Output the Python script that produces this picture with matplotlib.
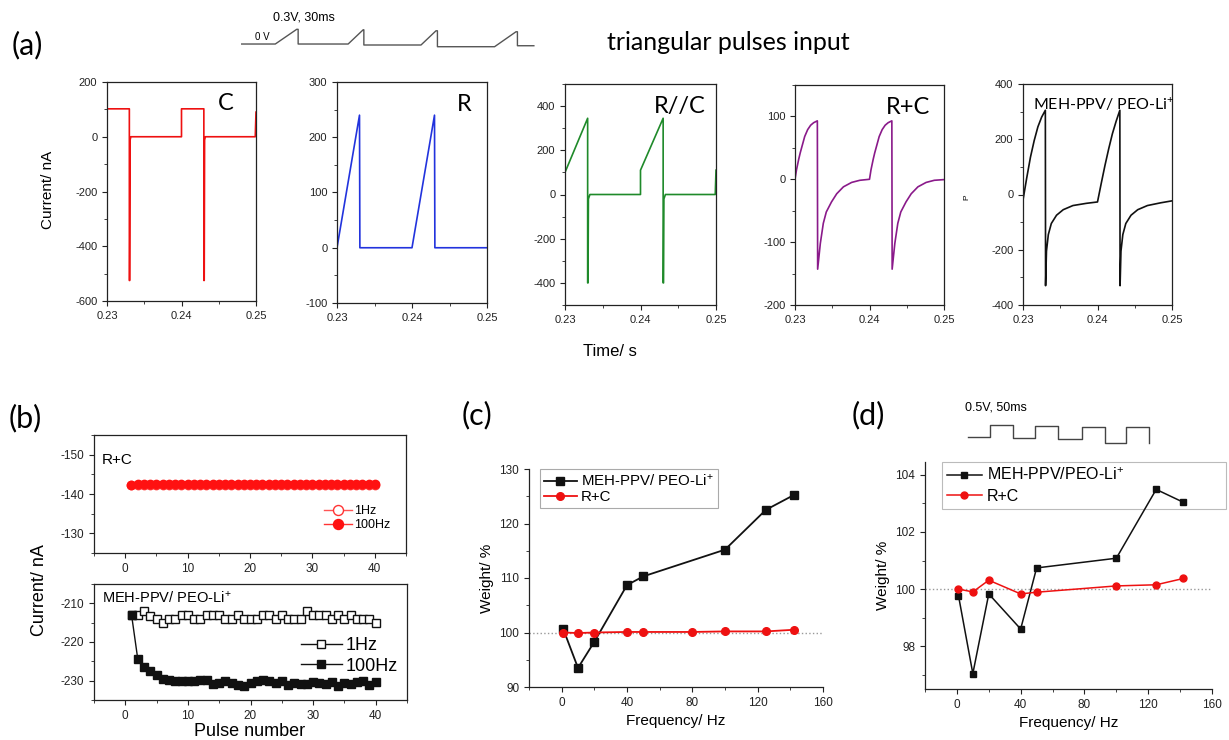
import matplotlib
matplotlib.use("Agg")
import matplotlib.pyplot as plt
from matplotlib.ticker import MultipleLocator

plt.rcParams["font.family"] = ["Liberation Sans", "DejaVu Sans"]
plt.rcParams["mathtext.fontset"] = "custom"
plt.rcParams["mathtext.rm"] = "Liberation Sans"
plt.rcParams["mathtext.it"] = "Liberation Sans"
plt.rcParams["axes.unicode_minus"] = False

# ---------------- data: panel (a) current responses (time in s, current in nA)
c_t = [0.2300, 0.2300, 0.2330, 0.2330, 0.23305, 0.2331, 0.2332, 0.2400, 0.2400,
       0.2430, 0.2430, 0.24305, 0.2431, 0.2432, 0.2499, 0.2500]
c_i = [20, 102, 102, -525, -525, -12, 0, 0, 102, 102, -525, -525, -12, 0, 0, 90]

r_t = [0.2300, 0.2330, 0.23305, 0.2400, 0.2430, 0.24305, 0.2500]
r_i = [0, 240, 0, 0, 240, 0, 0]

rpc_t = [0.2300, 0.2300, 0.2330, 0.2330, 0.23305, 0.2331, 0.2333, 0.2400, 0.2400,
         0.2430, 0.2430, 0.24305, 0.2431, 0.2433, 0.2499, 0.2500]
rpc_i = [0, 100, 345, -400, -400, -20, 0, 0, 110, 345, -400, -400, -20, 0, 0, 110]

rsc_t = [0.2300, 0.2302, 0.2305, 0.2307, 0.2310, 0.2313, 0.2317, 0.2321, 0.2325, 0.2330,
         0.23304, 0.2334, 0.2338, 0.2342, 0.2349, 0.2356, 0.2365, 0.2376, 0.2387, 0.2400,
         0.2402, 0.2405, 0.2407, 0.2410, 0.2413, 0.2417, 0.2421, 0.2425, 0.2430,
         0.24304, 0.2434, 0.2438, 0.2442, 0.2449, 0.2456, 0.2465, 0.2476, 0.2487, 0.2500]
rsc_i = [0, 15, 32, 42, 55, 68, 79, 86, 90, 93,
         -143, -102, -70, -52, -36, -23, -12, -5, -1.6, 0,
         15, 32, 42, 55, 68, 79, 86, 90, 93,
         -143, -102, -70, -52, -36, -23, -12, -5, -1.6, -0.5]

meh_t = [0.2300, 0.2305, 0.2310, 0.2315, 0.2320, 0.2325, 0.2330,
         0.23303, 0.23315, 0.2334, 0.2338, 0.2345, 0.2354, 0.2367, 0.2385, 0.2400,
         0.2405, 0.2410, 0.2415, 0.2420, 0.2425, 0.2430,
         0.24303, 0.24315, 0.2434, 0.2438, 0.2445, 0.2454, 0.2467, 0.2485, 0.2500]
meh_i = [-20, 60, 135, 195, 245, 280, 305,
         -330, -205, -145, -105, -75, -55, -40, -32, -27,
         40, 105, 165, 220, 265, 305,
         -330, -205, -145, -105, -75, -55, -40, -30, -23]

# input pulse sketches (time in ms, voltage in V)
tri_t = [0, 47, 77, 79, 79, 149, 170, 171, 171, 251, 272, 274, 274, 354, 384, 386, 386, 409]
tri_v = [0, 0, 0.30, 0.30, 0, 0, 0.29, 0.29, -0.02, -0.02, 0.27, 0.27,
         -0.055, -0.055, 0.25, 0.25, -0.035, -0.035]
sq_t = [0, 47, 47, 97, 97, 145, 145, 195, 195, 246, 246, 296, 296, 343, 343, 393, 393]
sq_v = [0, 0, 0.5, 0.5, -0.07, -0.07, 0.47, 0.47, -0.10, -0.10, 0.43, 0.43,
        -0.26, -0.26, 0.40, 0.40, -0.28]

# ---------------- data: panel (b) peak current vs pulse number
pulse_n = list(range(1, 41))
rc_1hz = [-142.3, -142.3, -142.3, -142.3, -142.3, -142.3, -142.3, -142.3, -142.3, -142.3,
          -142.3, -142.3, -142.3, -142.3, -142.3, -142.3, -142.3, -142.3, -142.3, -142.3,
          -142.3, -142.3, -142.3, -142.3, -142.3, -142.3, -142.3, -142.3, -142.3, -142.3,
          -142.3, -142.3, -142.3, -142.3, -142.3, -142.3, -142.3, -142.3, -142.3, -142.3]
rc_100hz = [-142.4, -142.5, -142.5, -142.5, -142.5, -142.5, -142.5, -142.5, -142.5, -142.5,
            -142.5, -142.5, -142.5, -142.5, -142.5, -142.5, -142.5, -142.5, -142.5, -142.5,
            -142.5, -142.5, -142.5, -142.5, -142.5, -142.5, -142.5, -142.5, -142.5, -142.5,
            -142.5, -142.5, -142.5, -142.5, -142.5, -142.5, -142.5, -142.5, -142.5, -142.5]
meh_1hz = [-213, -213, -212, -213.2, -214, -215, -214, -214, -213, -213,
           -214, -214, -213, -213, -213, -214, -214, -213, -214, -214,
           -214, -213, -213, -214, -213, -214, -214, -214, -212, -213,
           -213, -213, -214, -213, -214, -213, -214, -214, -214, -215]
meh_100hz = [-213, -224.5, -226.5, -227.5, -228.5, -229.5, -229.8, -230, -230, -230,
             -230, -229.8, -229.8, -230.8, -230.5, -230, -230.5, -231, -231.5, -230.5,
             -230, -229.8, -230, -230.5, -230.2, -231, -230.5, -230.8, -230.8, -230.3,
             -230.5, -230.8, -230.3, -231.5, -230.5, -230.8, -230.3, -230, -231, -230.3]

# ---------------- data: panels (c) and (d) weight vs frequency
c_freq_meh = [1, 10, 20, 40, 50, 100, 125, 142]
c_w_meh = [100.6, 93.5, 98.3, 108.7, 110.3, 115.2, 122.5, 125.2]
c_freq_rc = [1, 10, 20, 40, 50, 80, 100, 125, 142]
c_w_rc = [100.0, 99.9, 100.0, 100.1, 100.1, 100.1, 100.2, 100.2, 100.5]

d_freq = [1, 10, 20, 40, 50, 100, 125, 142]
d_w_meh = [99.77, 97.04, 99.83, 98.6, 100.74, 101.08, 103.49, 103.04]
d_w_rc = [100.0, 99.9, 100.31, 99.83, 99.89, 100.11, 100.15, 100.37]

W, H = 1229, 740
fig = plt.figure(figsize=(W / 100, H / 100), dpi=100)


def add_ax(x0, y0, x1, y1):
    # pixel box (top-left origin) -> figure fraction
    return fig.add_axes([x0 / W, 1 - y1 / H, (x1 - x0) / W, (y1 - y0) / H])


def ftext(x, y, s, **kw):
    fig.text(x / W, 1 - y / H, s, **kw)


def style(ax, fs=8, box=True):
    ax.tick_params(which="both", direction="out", labelsize=fs, colors="#222",
                   top=False, right=False)
    ax.tick_params(which="major", length=3.5, width=0.8)
    ax.tick_params(which="minor", length=2, width=0.6)
    for s in ax.spines.values():
        s.set_linewidth(0.9)
        s.set_color("#222")
    if not box:
        ax.spines["top"].set_visible(False)
        ax.spines["right"].set_visible(False)


# ---------------- panel (a)
a_specs = [
    ((107, 82, 256, 301), c_t, c_i, "#ee1111", (-600, 200), 200, 100, "C", 0.80),
    ((337, 82, 487, 303), r_t, r_i, "#2233dd", (-100, 300), 100, 50, "R", 0.85),
    ((565, 84, 716, 305), rpc_t, rpc_i, "#1f8a2a", (-500, 500), 200, 100, "R//C", 0.76),
    ((795, 85, 944, 305), rsc_t, rsc_i, "#8a1a8a", (-200, 150), 100, 50, "R+C", 0.76),
    ((1023, 84, 1172, 305), meh_t, meh_i, "#111111", (-400, 400), 200, 100,
     "MEH-PPV/ PEO-Li$^{+}$", 0.54),
]
for box, t, i, col, ylim, maj, mnr, lab, lx in a_specs:
    ax = add_ax(*box)
    ax.plot(t, i, color=col, lw=1.2)
    ax.set_xlim(0.23, 0.25)
    ax.set_ylim(*ylim)
    ax.set_xticks([0.23, 0.24, 0.25])
    ax.set_xticklabels(["0.23", "0.24", "0.25"])
    ax.xaxis.set_minor_locator(MultipleLocator(0.005))
    ax.yaxis.set_major_locator(MultipleLocator(maj))
    ax.yaxis.set_minor_locator(MultipleLocator(mnr))
    style(ax)
    if lab.startswith("MEH"):
        ax.text(lx, 0.91, lab, transform=ax.transAxes, ha="center", va="center",
                fontsize=11.5, family=["Lato", "DejaVu Sans"])
    else:
        ax.text(lx, 0.90, lab, transform=ax.transAxes, ha="center", va="center",
                fontsize=17, family=["Lato", "DejaVu Sans"])

ftext(48, 190, "Current/ nA", rotation=90, ha="center", va="center", fontsize=11)
ftext(610, 352, "Time/ s", ha="center", va="center", fontsize=12)
ftext(967, 197, "P", rotation=90, ha="center", va="center", fontsize=6)
ftext(27, 45, "(a)", ha="center", va="center", fontsize=22, family=["Lato", "DejaVu Sans"])
ftext(728, 42, "triangular pulses input", ha="center", va="center", fontsize=18,
      family=["Lato", "DejaVu Sans"])

sk = add_ax(240, 25, 536, 50)
sk.plot(tri_t, tri_v, color="#555", lw=1)
sk.set_xlim(-2.4, 412)
sk.set_ylim(-0.122, 0.388)
sk.axis("off")
ftext(304, 17, "0.3V, 30ms", ha="center", va="center", fontsize=9)
ftext(262, 37, "0 V", ha="center", va="center", fontsize=7)

# ---------------- panel (b)
ftext(25, 418, "(b)", ha="center", va="center", fontsize=22, family=["Lato", "DejaVu Sans"])
bt = add_ax(94, 435, 406, 553)
bt.plot(pulse_n, rc_1hz, color="#ff5555", lw=1, marker="o", ms=6, mfc="white",
        mec="#ff3333", label="1Hz")
bt.plot(pulse_n, rc_100hz, color="#ff3333", lw=1, marker="o", ms=6, mfc="#ff1111",
        mec="#ff1111", label="100Hz")
bt.set_xlim(-5, 45)
bt.set_ylim(-125, -155)
bt.xaxis.set_major_locator(MultipleLocator(10))
bt.xaxis.set_minor_locator(MultipleLocator(5))
bt.yaxis.set_major_locator(MultipleLocator(10))
bt.yaxis.set_minor_locator(MultipleLocator(5))
style(bt, fs=8.5)
bt.text(0.025, 0.79, "R+C", transform=bt.transAxes, ha="left", va="center", fontsize=11)
bt.legend(loc="lower right", bbox_to_anchor=(0.97, 0.13), frameon=False, fontsize=9,
          handlelength=2.2, handletextpad=0.2, labelspacing=0.2, borderpad=0,
          markerscale=1.2)

bb = add_ax(94, 584, 407, 700)
bb.plot(pulse_n, meh_1hz, color="#111", lw=1, marker="s", ms=5.5, mfc="white",
        mec="#111", label="1Hz")
bb.plot(pulse_n, meh_100hz, color="#111", lw=1, marker="s", ms=5.5, mfc="#111",
        mec="#111", label="100Hz")
bb.set_xlim(-5, 45)
bb.set_ylim(-235, -205)
bb.xaxis.set_major_locator(MultipleLocator(10))
bb.xaxis.set_minor_locator(MultipleLocator(5))
bb.yaxis.set_major_locator(MultipleLocator(10))
bb.yaxis.set_minor_locator(MultipleLocator(5))
style(bb, fs=8.5)
bb.text(0.025, 0.88, "MEH-PPV/ PEO-Li$^{+}$", transform=bb.transAxes, ha="left",
        va="center", fontsize=10.5)
bb.legend(loc="lower right", bbox_to_anchor=(1.0, 0.14), frameon=False, fontsize=13,
          handlelength=2.3, handletextpad=0.2, labelspacing=0.2, borderpad=0)
ftext(40, 590, "Current/ nA", rotation=90, ha="center", va="center", fontsize=13)
ftext(250, 732, "Pulse number", ha="center", va="center", fontsize=13)

# ---------------- panel (c)
ftext(477, 415, "(c)", ha="center", va="center", fontsize=22, family=["Lato", "DejaVu Sans"])
ac = add_ax(529, 469, 823, 687)
ac.axhline(100, color="#999", lw=1, ls=":")
ac.plot(c_freq_meh, c_w_meh, color="#111", lw=1.3, marker="s", ms=5.5,
        label="MEH-PPV/ PEO-Li$^{+}$")
ac.plot(c_freq_rc, c_w_rc, color="#ee1111", lw=1.3, marker="o", ms=5.5, label="R+C")
ac.set_xlim(-20, 160)
ac.set_ylim(90, 130)
ac.xaxis.set_major_locator(MultipleLocator(40))
ac.xaxis.set_minor_locator(MultipleLocator(20))
ac.yaxis.set_major_locator(MultipleLocator(10))
ac.yaxis.set_minor_locator(MultipleLocator(5))
style(ac, fs=8.5, box=False)
lg = ac.legend(loc="upper left", bbox_to_anchor=(0.037, 1.0), fontsize=10.8,
               fancybox=False, edgecolor="#aaa", framealpha=1, handlelength=2.2,
               handletextpad=0.3, labelspacing=0.1, borderpad=0.25, borderaxespad=0)
lg.get_frame().set_linewidth(0.8)
ac.set_ylabel("Weight/ %", fontsize=11)
ac.set_xlabel("Frequency/ Hz", fontsize=11)

# ---------------- panel (d)
ftext(868, 415, "(d)", ha="center", va="center", fontsize=22, family=["Lato", "DejaVu Sans"])
d_x0, d_x1 = 925, 1212
ad = add_ax(d_x0, 462, d_x1, 689)
ad.axhline(100, color="#999", lw=1, ls=":")
ad.plot(d_freq, d_w_meh, color="#111", lw=1.1, marker="s", ms=5, zorder=4,
        label="MEH-PPV/PEO-Li$^{+}$")
ad.plot(d_freq, d_w_rc, color="#ee1111", lw=1.1, marker="o", ms=5, zorder=4, label="R+C")
ad.set_xlim(-20, 160)
ad.set_ylim(96.5, 104.45)
ad.xaxis.set_major_locator(MultipleLocator(40))
ad.xaxis.set_minor_locator(MultipleLocator(20))
ad.yaxis.set_major_locator(MultipleLocator(2))
ad.yaxis.set_minor_locator(MultipleLocator(1))
style(ad, fs=8.5, box=False)
lg_x0 = (942 - d_x0) / (d_x1 - d_x0)
lg_w = (1226 - 942) / (d_x1 - d_x0)
lg = ad.legend(loc="upper left", bbox_to_anchor=(lg_x0, 0.5, lg_w, 0.5), mode="expand",
               fontsize=11.5, fancybox=False, edgecolor="#aaa", facecolor="none",
               handlelength=2.2, handletextpad=0.3, labelspacing=0.35, borderpad=0.3,
               borderaxespad=0)
lg.set_zorder(2)
lg.get_frame().set_linewidth(0.8)
ad.set_ylabel("Weight/ %", fontsize=11)
ad.set_xlabel("Frequency/ Hz", fontsize=11)

sq = add_ax(960, 418, 1160, 448)
sq.plot(sq_t, sq_v, color="#444", lw=1)
sq.set_xlim(-18, 416)
sq.set_ylim(-0.48, 0.8)
sq.axis("off")
ftext(996, 408, "0.5V, 50ms", ha="center", va="center", fontsize=9)

fig.savefig("out.png", dpi=100)
